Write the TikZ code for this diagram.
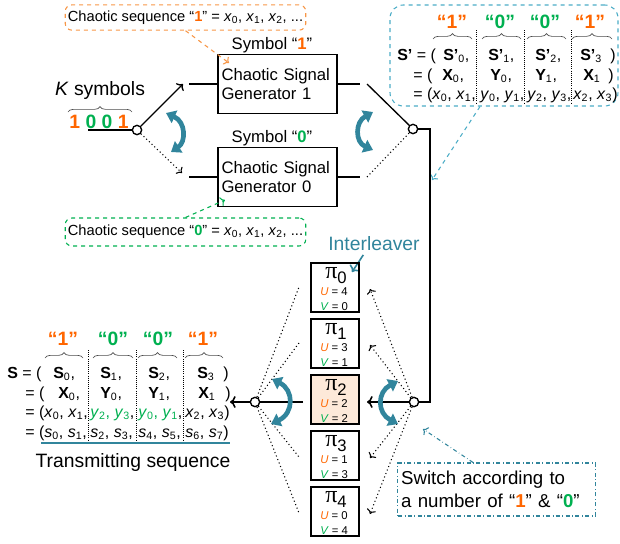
\documentclass[tikz,border=0pt]{standalone}
\usepackage{fontspec}
\setmainfont{Liberation Sans}
\newfontfamily\greekfont{Liberation Serif}
\usetikzlibrary{arrows.meta,decorations.pathreplacing,positioning}

\definecolor{orng}{HTML}{FF6600}
\definecolor{grn}{HTML}{00B050}
\definecolor{sea}{HTML}{31859C}
\definecolor{seal}{HTML}{4BACC6}
\definecolor{orngl}{HTML}{F79646}
\definecolor{peach}{HTML}{FDE9D9}

\newcommand{\bitone}{\textcolor{orng}{\textbf{1}}}
\newcommand{\bitzero}{\textcolor{grn}{\textbf{0}}}
\newcommand{\sv}[2]{\textit{#1}\textsubscript{#2}}
\newcommand{\bv}[2]{\textbf{#1}\textsubscript{#2}}
\newcommand{\pisub}[1]{{\greekfont\fontsize{18}{18}\selectfont π}\raisebox{-4pt}{\fontsize{12.5}{12.5}\selectfont #1}}

\tikzset{
  gen/.style={draw, line width=1.1pt, minimum width=89pt, minimum height=44pt,
    inner xsep=2.5pt, text width=84pt, align=left, font=\fontsize{12.5}{14.5}\selectfont},
  pibox/.style={draw, line width=1.2pt, minimum width=36pt, minimum height=36.75pt},
  pisym/.style={anchor=base west, inner sep=0pt},
  uv/.style={anchor=base west, inner sep=0pt, font=\fontsize{8.5}{9}\selectfont},
  sw/.style={circle, draw, fill=white, line width=1pt, minimum size=7pt, inner sep=0pt},
  turn/.style={sea, line width=3.5pt, {Triangle[width=10pt,length=7pt]}-{Triangle[width=10pt,length=7pt]}},
  wire/.style={line width=1.2pt},
  dots/.style={dotted, line width=0.8pt},
  cell/.style={anchor=base west, inner sep=0pt, font=\fontsize{12}{14}\selectfont},
  head/.style={anchor=base, inner sep=0pt, font=\bfseries\fontsize{14.5}{16}\selectfont},
  ubrace/.style={decorate, decoration={brace, amplitude=4pt}, black!70, line width=0.5pt},
  sep/.style={densely dotted, line width=0.6pt},
  lbl/.style={font=\fontsize{12.5}{14.5}\selectfont},
  big/.style={font=\fontsize{14.5}{17}\selectfont},
  seqbox/.style={rounded corners=5pt, dashed, line width=0.8pt, minimum height=19pt,
    inner sep=2pt, font=\fontsize{11}{13}\selectfont},
}

\begin{document}
\begin{tikzpicture}[x=0.75pt, y=-0.75pt]
\useasboundingbox (0,0) rectangle (620,543);

% K symbols and first switch
\node[big, anchor=base] (ks) at (100,95) {\textit{K} symbols};
\draw[ubrace] (68,112) -- (132,112);
\node[anchor=base, inner sep=0pt, font=\bfseries\fontsize{14.5}{16}\selectfont] (bits) at (99,128) {\bitone\ \bitzero\ \bitzero\ \bitone};
\coordinate (kin) at (88,130);
\node[sw] (swk) at (137,130) {};
\draw[wire] (kin) -- (swk);
\coordinate (g1a) at (183,84);
\coordinate (g0a) at (182,173);
\draw[->, line width=1pt] (swk) -- (g1a);
\draw[->, dots] (swk) -- (g0a);
\draw[turn] (166,113) .. controls (186,122) and (186,142) .. (171,152);

% generators
\node[gen] (gen1) at (277.5,84) {Chaotic Signal\\Generator 1};
\node[gen] (gen0) at (277.5,177) {Chaotic Signal\\Generator 0};
\node[lbl, anchor=base] (sym1) at (272,49) {Symbol “\bitone”};
\node[lbl, anchor=base] (sym0) at (272,142) {Symbol “\bitzero”};
\coordinate (g1b) at (189,84);
\coordinate (g0b) at (189,177);
\draw[wire] (g1b) -- (gen1);
\draw[wire] (g0b) -- (gen0);

% chaotic sequences
\node[seqbox, draw=orngl, minimum width=176pt] (seq1) at (185.5,17.5) {Chaotic sequence “\bitone” = \sv{x}{0}, \sv{x}{1}, \sv{x}{2}, ...};
\node[seqbox, draw=grn, minimum width=179pt, minimum height=21pt] (seq0) at (185.5,232) {Chaotic sequence “\bitzero” = \sv{x}{0}, \sv{x}{1}, \sv{x}{2}, ...};
\coordinate (g1t) at (229,63);
\coordinate (g0t) at (225,200);
\draw[->, dashed, orngl, line width=0.8pt] (seq1.south) -- (g1t);
\draw[->, dashed, grn, line width=0.8pt] (seq0.north) -- (g0t);

% second switch
\coordinate (g1o) at (360,84);
\coordinate (g0o) at (360,177);
\draw[wire] (gen1) -- (g1o);
\draw[wire] (gen0) -- (g0o);
\coordinate (g1c) at (367,84);
\coordinate (g0c) at (367,177);
\node[sw] (swr) at (413,129) {};
\draw[line width=1pt] (g1c) -- (swr);
\draw[dots] (g0c) -- (swr);
\draw[turn] (373,112) .. controls (355,122) and (355,142) .. (373,150);

% S' sequence
\node[draw=seal, dashed, rounded corners=10pt, line width=0.8pt, minimum width=171pt, minimum height=75.75pt] (spbox) at (504,55.5) {};
\node[head, text=orng] (ph1) at (452,28) {“1”};
\node[head, text=grn] (ph2) at (500,28) {“0”};
\node[head, text=grn] (ph3) at (545,28) {“0”};
\node[head, text=orng] (ph4) at (590,28) {“1”};
\draw[ubrace] (433,39) -- (472,39);
\draw[ubrace] (482,39) -- (521,39);
\draw[ubrace] (527,39) -- (566,39);
\draw[ubrace] (572,39) -- (612,39);
\draw[sep] (476,30) -- (476,103);
\draw[sep] (524,30) -- (524,103);
\draw[sep] (571,30) -- (571,103);
\node[cell] (pa0) at (397,60) {\textbf{S’} = (};
\node[cell] (pa1) at (443,60) {\bv{S’}{0},};
\node[cell] (pa2) at (488,60) {\bv{S’}{1},};
\node[cell] (pa3) at (535,60) {\bv{S’}{2},};
\node[cell] (pa4) at (580,60) {\bv{S’}{3}};
\node[cell] (pa5) at (610,60) {)};
\node[cell] (pb0) at (413,80) {= (};
\node[cell] (pb1) at (442,80) {\bv{X}{0},};
\node[cell] (pb2) at (490,80) {\bv{Y}{0},};
\node[cell] (pb3) at (535,80) {\bv{Y}{1},};
\node[cell] (pb4) at (583,80) {\bv{X}{1}};
\node[cell] (pb5) at (608,80) {)};
\node[cell] (pc0) at (413,99) {= (\sv{x}{0}, \sv{x}{1},};
\node[cell] (pc1) at (480,99) {\sv{y}{0}, \sv{y}{1},};
\node[cell] (pc2) at (527,99) {\sv{y}{2}, \sv{y}{3},};
\node[cell] (pc3) at (573,99) {\sv{x}{2}, \sv{x}{3})};
\coordinate (spend) at (432,180);
\draw[->, dashed, seal, line width=0.8pt] ([xshift=-18pt]spbox.south) -- (spend);

% to the interleavers
\node[sw] (swi) at (414,402) {};
\coordinate (rt) at (430,260);
\draw[wire] (swr) -| (rt) |- (swi);

% interleavers
\node[big, text=sea, anchor=base] (il) at (374,250) {Interleaver};
\coordinate (ilb) at (352,272);
\draw[->, sea, line width=1.2pt] ([xshift=-8pt]il.south) -- (ilb);
\node[pibox] (pi0) at (335,287.5) {};
\node[pisym] (pi0s) at (325,278) {\pisub{0}};
\node[uv] (pi0u) at (320,295) {\textcolor{orng}{\textit{U}} = 4};
\node[uv] (pi0v) at (320,310) {\textcolor{grn}{\textit{V}} = 0};
\node[pibox] (pi1) at (335,343.5) {};
\node[pisym] (pi1s) at (325,334) {\pisub{1}};
\node[uv] (pi1u) at (320,351) {\textcolor{orng}{\textit{U}} = 3};
\node[uv] (pi1v) at (320,366) {\textcolor{grn}{\textit{V}} = 1};
\node[pibox, fill=peach] (pi2) at (335,399.5) {};
\node[pisym] (pi2s) at (325,390) {\pisub{2}};
\node[uv] (pi2u) at (320,407) {\textcolor{orng}{\textit{U}} = 2};
\node[uv] (pi2v) at (320,422) {\textcolor{grn}{\textit{V}} = 2};
\node[pibox] (pi3) at (335,455.5) {};
\node[pisym] (pi3s) at (325,446) {\pisub{3}};
\node[uv] (pi3u) at (320,463) {\textcolor{orng}{\textit{U}} = 1};
\node[uv] (pi3v) at (320,478) {\textcolor{grn}{\textit{V}} = 3};
\node[pibox] (pi4) at (335,511.5) {};
\node[pisym] (pi4s) at (325,502) {\pisub{4}};
\node[uv] (pi4u) at (320,519) {\textcolor{orng}{\textit{U}} = 0};
\node[uv] (pi4v) at (320,534) {\textcolor{grn}{\textit{V}} = 4};

% switch in front of the interleavers
\coordinate (i0) at (370,289);
\coordinate (i1) at (370,345);
\coordinate (i2) at (367,402);
\coordinate (i3) at (370,458);
\coordinate (i4) at (370,514);
\draw[->, dots] (swi) -- (i0);
\draw[->, dots] (swi) -- (i1);
\draw[->, wire] (swi) -- (i2);
\draw[->, dots] (swi) -- (i3);
\draw[->, dots] (swi) -- (i4);
\draw[turn] (398,381) .. controls (377,392) and (377,413) .. (398,424);

% switch behind the interleavers
\node[sw] (swo) at (255,402) {};
\coordinate (o0) at (299,287);
\coordinate (o1) at (299,343);
\coordinate (o2) at (303,402);
\coordinate (o3) at (299,457);
\coordinate (o4) at (299,513);
\draw[dots] (swo) -- (o0);
\draw[dots] (swo) -- (o1);
\draw[wire] (o2) -- (swo);
\draw[dots] (swo) -- (o3);
\draw[dots] (swo) -- (o4);
\coordinate (sout) at (230,402);
\draw[->, wire] (swo) -- (sout);
\draw[turn] (272,379) .. controls (294,390) and (294,413) .. (271,424);

% S sequence
\node[head, text=orng] (sh1) at (63,345) {“1”};
\node[head, text=grn] (sh2) at (113,345) {“0”};
\node[head, text=grn] (sh3) at (158,345) {“0”};
\node[head, text=orng] (sh4) at (203,345) {“1”};
\draw[ubrace] (45,358) -- (83,358);
\draw[ubrace] (93,358) -- (133,358);
\draw[ubrace] (138,358) -- (177,358);
\draw[ubrace] (185,358) -- (223,358);
\draw[sep] (88,350) -- (88,440);
\draw[sep] (136,350) -- (136,440);
\draw[sep] (183,350) -- (183,440);
\node[cell] (sa0) at (7,378) {\textbf{S} = (};
\node[cell] (sa1) at (53,378) {\bv{S}{0},};
\node[cell] (sa2) at (100,378) {\bv{S}{1},};
\node[cell] (sa3) at (148,378) {\bv{S}{2},};
\node[cell] (sa4) at (197,378) {\bv{S}{3}};
\node[cell] (sa5) at (223,378) {)};
\node[cell] (sb0) at (25,398) {= (};
\node[cell] (sb1) at (58,398) {\bv{X}{0},};
\node[cell] (sb2) at (100,398) {\bv{Y}{0},};
\node[cell] (sb3) at (148,398) {\bv{Y}{1},};
\node[cell] (sb4) at (198,398) {\bv{X}{1}};
\node[cell] (sb5) at (225,398) {)};
\node[cell] (sc0) at (25,417) {= (\sv{x}{0}, \sv{x}{1},};
\node[cell] (sc1) at (90,417) {\textcolor{grn}{\sv{y}{2}, \sv{y}{3}},};
\node[cell] (sc2) at (138,417) {\textcolor{grn}{\sv{y}{0}, \sv{y}{1}},};
\node[cell] (sc3) at (185,417) {\sv{x}{2}, \sv{x}{3})};
\node[cell] (sd0) at (25,437) {= (\sv{s}{0}, \sv{s}{1},};
\node[cell] (sd1) at (90,437) {\sv{s}{2}, \sv{s}{3},};
\node[cell] (sd2) at (138,437) {\sv{s}{4}, \sv{s}{5},};
\node[cell] (sd3) at (185,437) {\sv{s}{6}, \sv{s}{7})};
\draw[sea, line width=1.5pt] (41,443) -- (230,443);
\node[big, anchor=base] (ts) at (133,467) {Transmitting sequence};

% switch rule
\node[draw=sea, dash dot, line width=0.8pt, minimum width=147.75pt, minimum height=39.75pt,
  inner xsep=2.5pt, text width=143pt, align=left, font=\fontsize{14}{17}\selectfont] (swbox) at (496.5,489.5)
  {Switch according to\\a number of “\bitone” \& “\bitzero”};
\coordinate (swpt) at (423,429);
\draw[->, dash dot, sea, line width=0.8pt] ([xshift=-17.6pt]swbox.north) -- (swpt);
\end{tikzpicture}
\end{document}
